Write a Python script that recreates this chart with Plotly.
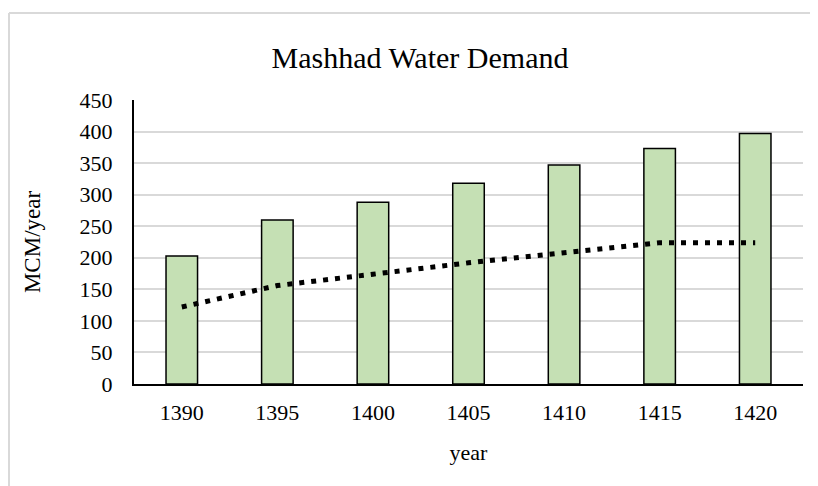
import plotly.graph_objects as go

years = ["1390", "1395", "1400", "1405", "1410", "1415", "1420"]
demand = [203, 260, 288, 318, 347, 373, 397]
trend = [122, 156, 174, 192, 208, 224, 224]
y_ticks = [0, 50, 100, 150, 200, 250, 300, 350, 400, 450]

# page has an 8px body margin, so the figure is drawn 8px smaller
OFF = 8
W, H = 818 - OFF, 486 - OFF
L, R, T, B = 134 - OFF, 15, 100 - OFF, 486 - 384
pw, ph = W - L - R, H - T - B

def px(xp):
    return (xp - OFF - L) / pw

def py(yp):
    return (H - B - (yp - OFF)) / ph

fig = go.Figure()
fig.add_trace(go.Bar(x=years, y=demand, marker=dict(color="#c5e0b4", line=dict(color="black", width=1.5)),
                     showlegend=False))
fig.add_trace(go.Scatter(x=years, y=trend, mode="lines",
                         line=dict(color="black", width=5, dash="5px,7px"), showlegend=False))

fig.update_layout(
    width=W, height=H,
    margin=dict(l=L, r=R, t=T, b=B),
    paper_bgcolor="white", plot_bgcolor="white",
    bargap=0.67,
    font=dict(family="Liberation Serif, Times New Roman, serif", color="black", size=22),
    title=dict(text="Mashhad Water Demand", x=(420 - OFF) / W, xref="container", xanchor="center",
               y=1 - (57 - OFF) / H, yanchor="middle", font=dict(size=30, color="black")),
    xaxis=dict(type="category", showline=True, linecolor="black", linewidth=2,
               showgrid=False, ticks="", ticklabelstandoff=8,
               title=dict(text="year", standoff=20, font=dict(size=22))),
    yaxis=dict(range=[0, 450], tickvals=y_ticks, showline=True, linecolor="black", linewidth=2,
               gridcolor="#d9d9d9", gridwidth=1.5, ticks="", ticklabelstandoff=15,
               zeroline=False,
               title=dict(text="MCM/year", standoff=33, font=dict(size=23))),
    shapes=[
        dict(type="line", xref="paper", yref="paper", x0=px(9), x1=px(9), y0=py(13), y1=py(500),
             line=dict(color="#d9d9d9", width=2)),
        dict(type="line", xref="paper", yref="paper", x0=px(9), x1=px(830), y0=py(13), y1=py(13),
             line=dict(color="#d9d9d9", width=2)),
    ],
)

fig.write_html("out.html")
